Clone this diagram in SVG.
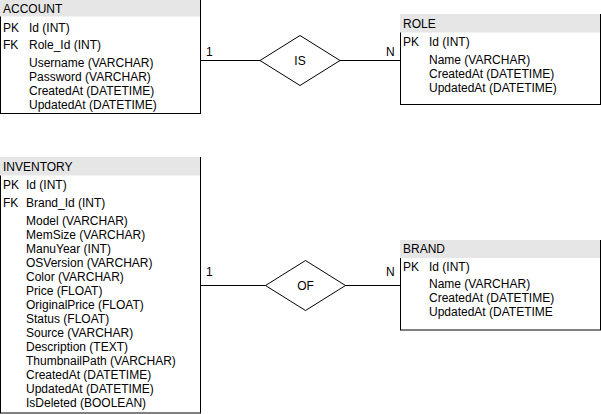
<svg xmlns="http://www.w3.org/2000/svg" width="601" height="414" viewBox="0 0 601 414">
<style>
text{font-family:"Liberation Sans",Arial,sans-serif;font-size:12px;fill:#000}
.box{fill:#fff;stroke:#000;stroke-width:1}
.hdr{fill:#e6e6e6;stroke:none}
.ln{stroke:#000;stroke-width:1;fill:none}
.dia{fill:#fff;stroke:#000;stroke-width:1}
.c{text-anchor:middle}
</style>
<rect width="601" height="414" fill="#fff"/>
<g id="connectors">
<path class="ln" d="M200.5 60.5H260M340 60.5H400.5"/>
<path class="ln" d="M200.5 285.5H266M345 285.5H400.5"/>
<text x="206" y="56">1</text>
<text x="386" y="56">N</text>
<text x="206" y="276">1</text>
<text x="386" y="276">N</text>
</g>
<g id="rel-is">
<path class="dia" d="M300 35.5L340 60.5L300 85.5L260 60.5Z"/>
<text class="c" x="300" y="65">IS</text>
</g>
<g id="rel-of">
<path class="dia" d="M305.5 260.5L345.5 285.5L305.5 310.5L265.5 285.5Z"/>
<text class="c" x="305.5" y="290">OF</text>
</g>
<g id="account">
<rect class="box" x="0.5" y="-1.5" width="200" height="115"/>
<rect class="hdr" x="0" y="-2" width="200" height="18.5"/>
<text x="3" y="12.5">ACCOUNT</text>
<text x="3" y="31.5">PK</text><text x="29" y="31.5">Id (INT)</text>
<text x="3" y="49">FK</text><text x="29" y="49">Role_Id (INT)</text>
<text x="29" y="66.5">Username (VARCHAR)</text>
<text x="29" y="80.5">Password (VARCHAR)</text>
<text x="29" y="94.5">CreatedAt (DATETIME)</text>
<text x="29" y="108.5">UpdatedAt (DATETIME)</text>
</g>
<g id="role">
<rect class="box" x="400.5" y="14.5" width="200" height="90"/>
<rect class="hdr" x="400" y="14" width="200" height="18.5"/>
<text x="403" y="27.5">ROLE</text>
<text x="403" y="46">PK</text><text x="429" y="46">Id (INT)</text>
<text x="429" y="64">Name (VARCHAR)</text>
<text x="429" y="78">CreatedAt (DATETIME)</text>
<text x="429" y="92">UpdatedAt (DATETIME)</text>
</g>
<g id="inventory">
<rect class="box" x="0.5" y="157.5" width="200" height="255.5"/>
<rect class="hdr" x="0" y="157" width="200" height="18.5"/>
<text x="3" y="170.5">INVENTORY</text>
<text x="3" y="189">PK</text><text x="26" y="189">Id (INT)</text>
<text x="3" y="207">FK</text><text x="26" y="207">Brand_Id (INT)</text>
<text x="26" y="224.5">Model (VARCHAR)</text>
<text x="26" y="238.5">MemSize (VARCHAR)</text>
<text x="26" y="252.5">ManuYear (INT)</text>
<text x="26" y="266.5">OSVersion (VARCHAR)</text>
<text x="26" y="280.5">Color (VARCHAR)</text>
<text x="26" y="294.5">Price (FLOAT)</text>
<text x="26" y="308.5">OriginalPrice (FLOAT)</text>
<text x="26" y="322.5">Status (FLOAT)</text>
<text x="26" y="336.5">Source (VARCHAR)</text>
<text x="26" y="350.5">Description (TEXT)</text>
<text x="26" y="364.5">ThumbnailPath (VARCHAR)</text>
<text x="26" y="378.5">CreatedAt (DATETIME)</text>
<text x="26" y="392.5">UpdatedAt (DATETIME)</text>
<text x="26" y="406.5">IsDeleted (BOOLEAN)</text>
</g>
<g id="brand">
<rect class="box" x="400.5" y="240.5" width="200" height="89.5"/>
<rect class="hdr" x="400" y="240" width="200" height="18"/>
<text x="403" y="253">BRAND</text>
<text x="403" y="271">PK</text><text x="429" y="271">Id (INT)</text>
<text x="429" y="288">Name (VARCHAR)</text>
<text x="429" y="302">CreatedAt (DATETIME)</text>
<text x="429" y="316">UpdatedAt (DATETIME</text>
</g>
</svg>
